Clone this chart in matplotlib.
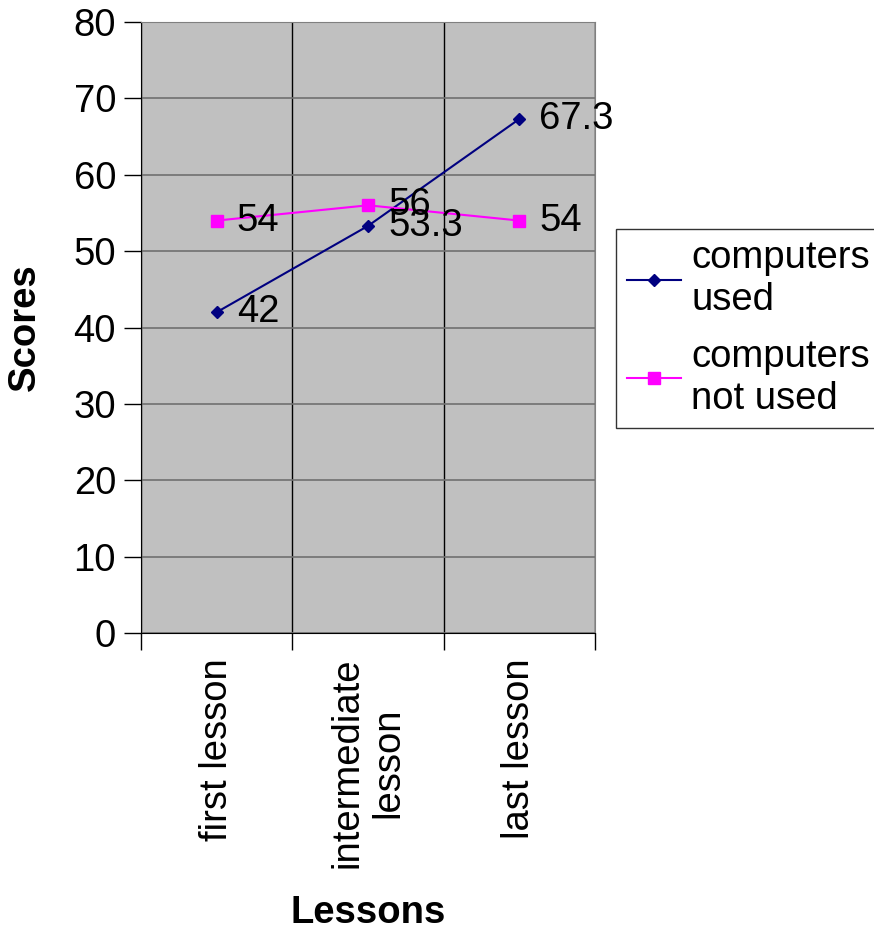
import matplotlib
matplotlib.use('Agg')
import matplotlib.pyplot as plt

plt.rcParams['font.family'] = ['Liberation Sans', 'DejaVu Sans']

# Data
lessons = ['first lesson', 'intermediate\nlesson', 'last lesson']
computers_used = [42, 53.3, 67.3]
computers_not_used = [54, 56, 54]

FS = 27.5
W, H = 874, 932
fig = plt.figure(figsize=(W / 100, H / 100), dpi=100)
ax = fig.add_axes([141 / W, (H - 633) / H, 454 / W, 611 / H])
ax.set_facecolor('#C0C0C0')

x = list(range(len(lessons)))
ax.plot(x, computers_used, color='#000080', marker='D', markersize=6.5,
        linewidth=1.5, label='computers\nused', zorder=3)
ax.plot(x, computers_not_used, color='#FF00FF', marker='s', markersize=8,
        linewidth=1.5, label='computers\nnot used', zorder=3)

# data labels to the right of each point
for ys in [computers_used, computers_not_used]:
    for xi, yi in zip(x, ys):
        ax.annotate(f'{yi:g}', (xi, yi), xytext=(20, 0), textcoords='offset pixels',
                    ha='left', va='center', fontsize=FS, zorder=4)

ax.set_xlim(-0.5, len(lessons) - 0.5)
ax.set_ylim(0, 80)
ax.set_yticks(range(0, 81, 10))
ax.set_xticks(x)
ax.set_xticklabels(lessons, rotation=90, fontsize=FS, multialignment='center')
ax.set_xticks([i - 0.5 for i in range(len(lessons) + 1)], minor=True)
ax.tick_params(axis='x', which='major', length=0, pad=18)
ax.tick_params(axis='x', which='minor', length=12, width=1, color='black')
ax.tick_params(axis='y', length=12, width=1, labelsize=FS, pad=6)

ax.grid(axis='y', which='major', color='#707070', linewidth=1.2)
ax.grid(axis='x', which='minor', color='black', linewidth=1)
ax.set_axisbelow(True)

for side in ['top', 'right']:
    ax.spines[side].set_color('#808080')
for side in ['left', 'bottom']:
    ax.spines[side].set_color('black')

ax.set_ylabel('Scores', fontsize=FS, fontweight='bold', va='center')
ax.yaxis.set_label_coords(-(141 - 25) / 454, 0.5)
ax.set_xlabel('Lessons', fontsize=FS, fontweight='bold', va='center')
ax.xaxis.set_label_coords(0.5, -(913 - 633) / 611)

leg = ax.legend(loc='upper left', bbox_to_anchor=(616 / W, 1 - 229 / H),
                bbox_transform=fig.transFigure, fontsize=FS, frameon=True,
                fancybox=False, edgecolor='black', borderaxespad=0,
                handlelength=1.4, handletextpad=0.27, labelspacing=0.55,
                borderpad=0.3)
leg.get_frame().set_linewidth(1)

fig.savefig('out.png', dpi=100)
